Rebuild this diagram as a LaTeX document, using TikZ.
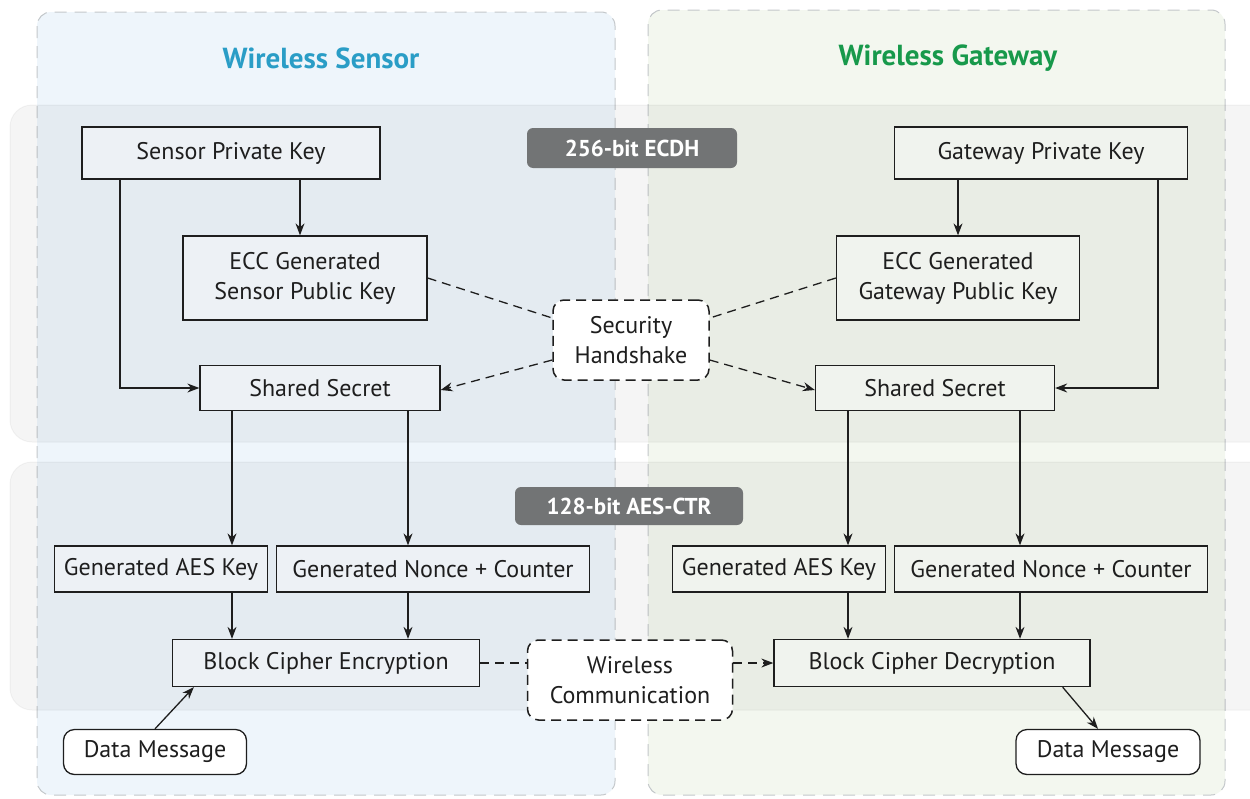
\documentclass[tikz,border=0pt]{standalone}
\usepackage{fontspec}
\setmainfont{PT Sans}
\usetikzlibrary{arrows.meta}
\definecolor{sensorbg}{HTML}{EEF5FB}
\definecolor{gatebg}{HTML}{F3F7EF}
\definecolor{panelline}{HTML}{C3C7CA}
\definecolor{sensortitle}{HTML}{2A9DC6}
\definecolor{gatetitle}{HTML}{17994B}
\definecolor{tagfill}{HTML}{727475}
\definecolor{ink}{HTML}{1E1E1E}
\begin{document}
\begin{tikzpicture}[x=1pt,y=-1pt,
  box/.style={draw=ink, line width=1.3pt, fill=white, fill opacity=0.35, text opacity=1, text=ink, inner sep=0pt, font=\fontsize{24}{30}\selectfont, align=center},
  rbox/.style={box, rounded corners=11pt, fill opacity=1},
  hbox/.style={rbox, dash pattern=on 10pt off 6pt, line width=1.5pt},
  arr/.style={draw=ink, line width=1.3pt, -{Stealth[length=12pt,width=9pt]}},
  dline/.style={draw=ink, line width=1.3pt, dash pattern=on 9pt off 6pt},
  panel/.style={draw=panelline, line width=1pt, dash pattern=on 12pt off 8pt, rounded corners=14pt},
  band/.style={fill=black, fill opacity=0.04, draw=black, draw opacity=0.04, line width=1pt, rounded corners=22pt},
  tag/.style={fill=tagfill, text=white, rounded corners=6pt, inner sep=0pt, font=\fontsize{23}{25}\selectfont\bfseries},
  title/.style={font=\fontsize{29}{32}\selectfont\bfseries}
]
\useasboundingbox (0,0) rectangle (1250,798);
\clip (0,0) rectangle (1250,798);

% panels
\draw[panel, fill=sensorbg] (37,12) rectangle (615,795);
\draw[panel, fill=gatebg] (648,10) rectangle (1225,795);
\node[title, text=sensortitle] (tsens) at (321,58) {Wireless Sensor};
\node[title, text=gatetitle] (tgate) at (948,58) {Wireless Gateway};

% bands
\draw[band] (10,105) rectangle (1275,442);
\draw[band] (10,462) rectangle (1275,710);
\node[tag, minimum width=210pt, minimum height=40pt] (ecdh) at (632,148) {256-bit ECDH};
\node[tag, minimum width=228pt, minimum height=38pt] (aesctr) at (629,506) {128-bit AES-CTR};

% ECDH boxes
\node[box, minimum width=298pt, minimum height=52pt] (spk) at (231,153) {Sensor Private Key};
\node[box, minimum width=244pt, minimum height=84pt] (spub) at (305,278) {ECC Generated\\Sensor Public Key};
\node[box, minimum width=240pt, minimum height=45pt] (sss) at (320,388) {Shared Secret};
\node[box, minimum width=293pt, minimum height=52pt] (gpk) at (1041,153) {Gateway Private Key};
\node[box, minimum width=243pt, minimum height=84pt] (gpub) at (958,278) {ECC Generated\\Gateway Public Key};
\node[box, minimum width=239pt, minimum height=45pt] (gss) at (935,388) {Shared Secret};
\node[hbox, minimum width=156pt, minimum height=80pt] (hs) at (631,340) {Security\\Handshake};

% AES boxes
\node[box, minimum width=213pt, minimum height=46pt] (saes) at (161,569) {Generated AES Key};
\node[box, minimum width=313pt, minimum height=46pt] (snon) at (433,569) {Generated Nonce + Counter};
\node[box, minimum width=307pt, minimum height=47pt] (enc) at (326,663) {Block Cipher Encryption};
\node[box, minimum width=213pt, minimum height=46pt] (gaes) at (779,569) {Generated AES Key};
\node[box, minimum width=313pt, minimum height=46pt] (gnon) at (1051,569) {Generated Nonce + Counter};
\node[box, minimum width=316pt, minimum height=47pt] (dec) at (932,663) {Block Cipher Decryption};
\node[hbox, minimum width=205pt, minimum height=80pt] (wc) at (630,680) {Wireless\\Communication};
\node[rbox, minimum width=183pt, minimum height=45pt] (sdm) at (155,752) {Data Message};
\node[rbox, minimum width=184pt, minimum height=45pt] (gdm) at (1108,752) {Data Message};

% column coordinates
\coordinate (c1) at (300,0);
\coordinate (c2) at (120,0);
\coordinate (c3) at (958,0);
\coordinate (c4) at (1158,0);
\coordinate (c5) at (232,0);
\coordinate (c6) at (408,0);
\coordinate (c7) at (848,0);
\coordinate (c8) at (1020,0);

% ECDH connectors
\draw[arr] (c1 |- spk.south) -- (c1 |- spub.north);
\draw[arr] (c2 |- spk.south) |- (sss.west);
\draw[arr] (c3 |- gpk.south) -- (c3 |- gpub.north);
\draw[arr] (c4 |- gpk.south) |- (gss.east);
\draw[dline] (spub.east) -- ([yshift=22pt]hs.west);
\draw[dline] (gpub.west) -- ([yshift=22pt]hs.east);
\draw[dline, -{Stealth[length=12pt,width=9pt]}] ([yshift=-20pt]hs.west) -- ([yshift=-2pt]sss.east);
\draw[dline, -{Stealth[length=12pt,width=9pt]}] ([yshift=-20pt]hs.east) -- ([yshift=-2pt]gss.west);

% AES connectors
\draw[arr] (c5 |- sss.south) -- (c5 |- saes.north);
\draw[arr] (c6 |- sss.south) -- (c6 |- snon.north);
\draw[arr] (c7 |- gss.south) -- (c7 |- gaes.north);
\draw[arr] (c8 |- gss.south) -- (c8 |- gnon.north);
\draw[arr] (c5 |- saes.south) -- (c5 |- enc.north);
\draw[arr] (c6 |- snon.south) -- (c6 |- enc.north);
\draw[arr] (c7 |- gaes.south) -- (c7 |- dec.north);
\draw[arr] (c8 |- gnon.south) -- (c8 |- dec.north);
\draw[arr] (sdm.north) -- ([xshift=22pt]enc.south west);
\draw[arr] ([xshift=-28pt]dec.south east) -- ([xshift=-10pt]gdm.north);
\draw[dline] (enc.east) -- (wc.west |- enc.east);
\draw[dline, -{Stealth[length=12pt,width=9pt]}] (wc.east |- dec.west) -- (dec.west);
\end{tikzpicture}
\end{document}
